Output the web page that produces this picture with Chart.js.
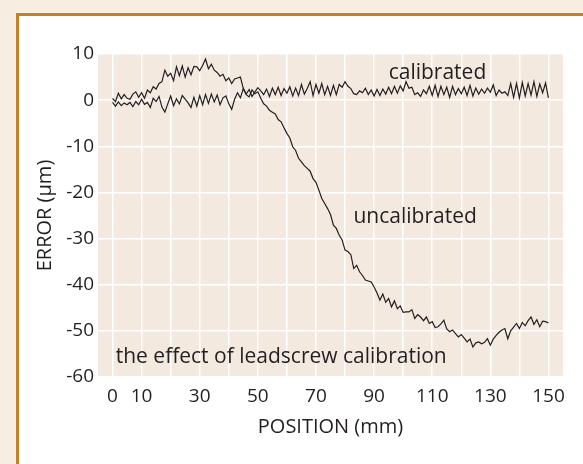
<!DOCTYPE html>
<html>
<head>
<meta charset="utf-8">
<script src="https://cdn.jsdelivr.net/npm/chart.js@4/dist/chart.umd.min.js"></script>
<style>
  html, body { margin: 0; padding: 0; background: #f7eee1; }
  #wrap { position: relative; width: 583px; height: 464px; overflow: hidden; }
  #card { position: absolute; left: 16px; top: 13px; width: 600px; height: 500px;
          background: #ffffff; border-left: 3px solid #c1822c; border-top: 3px solid #c1822c; }
  #c { position: absolute; left: 0; top: 0; }
</style>
</head>
<body>
<div id="wrap">
  <div id="card"></div>
  <canvas id="c" width="583" height="464"></canvas>
</div>
<script>
// position in mm, one point per mm
const positions = [];
for (let i = 0; i <= 150; i++) positions.push(i);

const calibrated = [
  -0.5, -1.3, -0.4, -1.2, -0.6, -1.0, -0.5, -1.4, -0.3, -1.0,
   0.2, -0.9, -0.5, -1.6,  0.4, -0.3,  0.8, -1.5, -2.6, -0.8,
   0.9, -1.2,  0.3, -0.8,  1.0,  0.2, -0.6, -1.6,  0.6, -1.3,
   1.0, -1.0,  1.2, -0.7,  1.3, -0.4,  1.1, -1.0,  0.5,  0.9,
  -0.8, -2.0,  0.2,  1.6,  0.5,  2.5,  1.3,  2.3,  0.8,  1.8,
   2.7,  2.0,  1.2,  2.4,  0.8,  2.6,  1.2,  2.8,  1.0,  2.5,
   1.5,  2.9,  0.9,  2.6,  1.0,  3.4,  1.3,  2.5,  4.0,  1.0,
   3.4,  1.5,  3.6,  1.2,  3.0,  1.0,  3.2,  1.2,  3.4,  2.8,
   4.0,  3.0,  2.5,  1.4,  1.2,  2.0,  1.6,  2.6,  1.2,  2.2,
   0.9,  2.3,  1.0,  2.4,  1.3,  2.8,  1.4,  3.0,  1.5,  3.1,
   2.0,  4.0,  2.6,  2.8,  1.2,  1.6,  0.8,  2.2,  1.4,  3.0,
   1.0,  3.2,  0.8,  3.0,  1.2,  2.8,  0.6,  3.0,  1.2,  2.5,
   1.4,  2.8,  1.0,  3.2,  0.9,  2.6,  1.3,  2.4,  1.5,  2.6,
   1.7,  3.3,  1.0,  2.2,  1.5,  1.8,  1.0,  3.6,  0.6,  3.6,
   0.5,  3.8,  0.9,  3.6,  1.1,  4.0,  0.8,  3.5,  1.6,  3.7,
   0.5
];

const uncalibrated = [
   0.4, -0.3,  1.5,  0.3,  1.2,  0.4,  0.2,  1.3,  1.8,  0.6,
   1.6,  0.4,  2.2,  1.6,  2.9,  2.4,  3.6,  4.0,  6.5,  5.2,
   5.8,  4.2,  7.2,  5.3,  7.4,  5.0,  7.0,  5.5,  7.3,  7.2,
   6.4,  7.5,  8.9,  6.8,  7.8,  6.5,  6.0,  5.2,  5.6,  4.2,
   4.8,  3.6,  4.6,  4.8,  5.0,  2.5,  1.2,  0.7,  2.2,  1.4,
   1.8,  0.4, -0.8, -1.3, -2.2, -2.6, -3.0, -4.2, -4.7, -6.0,
  -7.2, -8.2, -10.1, -10.9, -12.6, -13.4, -14.2, -14.8, -15.4, -17.0,
  -17.8, -19.5, -21.3, -22.4, -23.5, -24.8, -27.1, -27.8, -29.3, -30.3,
  -32.5, -32.8, -33.5, -36.5, -35.8, -37.2, -38.0, -39.0, -39.2, -39.4,
  -40.5, -41.8, -43.3, -42.0, -43.8, -43.0, -44.8, -43.5, -45.2, -44.6,
  -46.0, -45.9, -45.9, -45.4, -47.3, -46.5, -47.0, -47.8, -47.0, -48.4,
  -48.0, -49.3, -49.1, -48.5, -47.7, -49.6, -50.2, -49.8, -50.6, -51.3,
  -50.8, -51.6, -52.4, -51.8, -53.5, -52.6, -52.4, -52.8, -52.5, -51.7,
  -53.1, -51.8, -51.0, -50.3, -49.8, -49.5, -51.7, -50.0, -49.2, -48.4,
  -49.5, -48.2, -48.9, -47.8, -47.0, -48.6, -47.6, -49.1, -47.9, -48.0,
  -48.3
];

const xTicks = [0, 10, 20, 30, 40, 50, 60, 70, 80, 90, 100, 110, 120, 130, 140, 150];
const xLabelled = [0, 10, 30, 50, 70, 90, 110, 130, 150];
const yTicks = [10, 0, -10, -20, -30, -40, -50, -60];

const notes = [
  { text: "calibrated", x: 111.8, y: 5.9, align: "center" },
  { text: "uncalibrated", x: 82.9, y: -25.4, align: "left" },
  { text: "the effect of leadscrew calibration", x: 1.1, y: -55.7, align: "left" }
];

const FONT = "'Open Sans', 'Noto Sans', sans-serif";
const INK = "#231f20";

const plotBg = {
  id: "plotBg",
  beforeDraw(chart) {
    const a = chart.chartArea, ctx = chart.ctx;
    ctx.save();
    ctx.fillStyle = "#f3e9df";
    ctx.fillRect(a.left, a.top, a.right - a.left, a.bottom - a.top);
    ctx.restore();
  }
};

const noteText = {
  id: "noteText",
  afterDraw(chart) {
    const ctx = chart.ctx, sx = chart.scales.x, sy = chart.scales.y;
    ctx.save();
    ctx.fillStyle = INK;
    ctx.font = "21px " + FONT;
    ctx.textBaseline = "middle";
    notes.forEach(n => {
      ctx.textAlign = n.align;
      ctx.fillText(n.text, sx.getPixelForValue(n.x), sy.getPixelForValue(n.y));
    });
    ctx.restore();
  }
};

const mkLine = (label, vals) => ({
  label: label,
  data: positions.map((p, i) => ({ x: p, y: vals[i] })),
  borderColor: INK,
  borderWidth: 1.2,
  pointRadius: 0,
  tension: 0,
  fill: false
});

new Chart(document.getElementById("c"), {
  type: "line",
  data: { datasets: [mkLine("calibrated", calibrated), mkLine("uncalibrated", uncalibrated)] },
  options: {
    responsive: false,
    animation: false,
    layout: { padding: { top: 54, right: 20, left: 0, bottom: 0 } },
    plugins: { legend: { display: false }, tooltip: { enabled: false } },
    scales: {
      x: {
        type: "linear",
        min: -5, max: 155,
        afterBuildTicks: s => { s.ticks = xTicks.map(v => ({ value: v })); },
        afterFit: s => { s.height = 87; },
        border: { display: false },
        grid: { color: "#ffffff", lineWidth: 1.5, drawTicks: false },
        ticks: {
          padding: 8, color: INK, font: { family: FONT, size: 19 }, maxRotation: 0, autoSkip: false,
          callback: v => xLabelled.includes(v) ? String(v) : ""
        },
        title: { display: true, text: "POSITION (mm)", color: INK,
                 font: { family: FONT, size: 20 }, padding: { top: 0, bottom: 25 } }
      },
      y: {
        min: -60, max: 10,
        afterBuildTicks: s => { s.ticks = yTicks.map(v => ({ value: v })); },
        afterFit: s => { s.width = 98; },
        border: { display: false },
        grid: { color: "#ffffff", lineWidth: 1.5, drawTicks: false },
        ticks: { padding: 4, color: INK, font: { family: FONT, size: 19 } },
        title: { display: true, text: "ERROR (\u03bcm)", color: INK,
                 font: { family: FONT, size: 20 }, padding: { top: 33, bottom: 0 } }
      }
    }
  },
  plugins: [plotBg, noteText]
});
</script>
</body>
</html>
